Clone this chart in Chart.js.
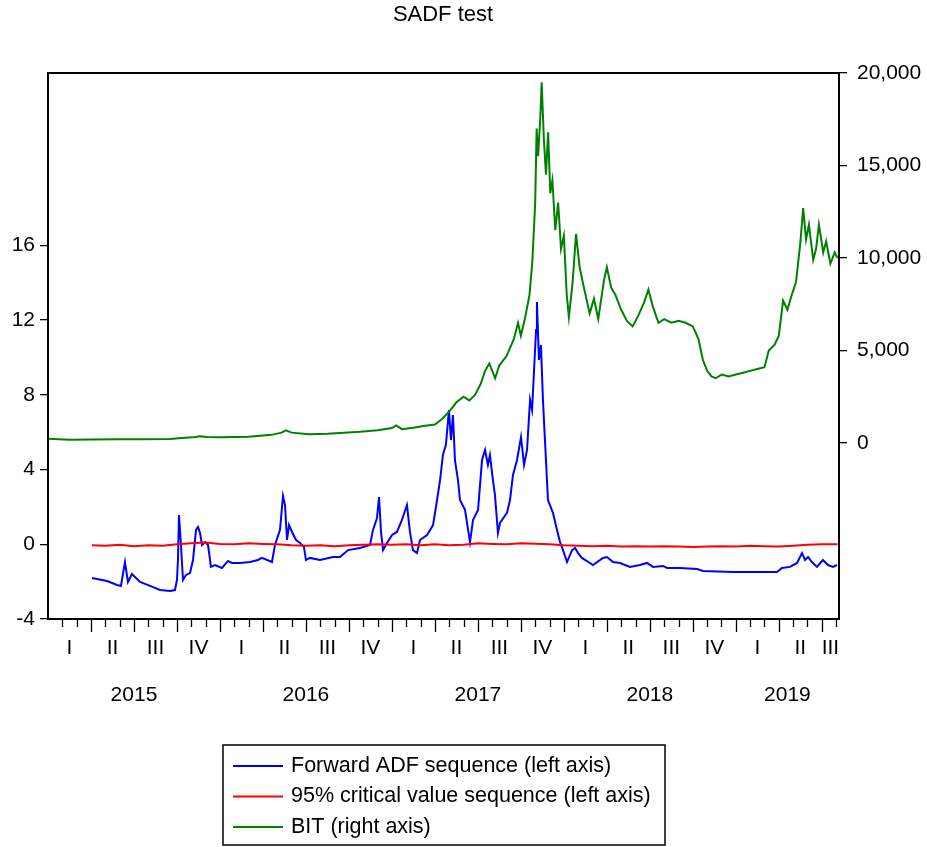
<!DOCTYPE html>
<html>
<head>
<meta charset="utf-8">
<title>SADF test</title>
<script src="https://cdn.jsdelivr.net/npm/chart.js@4.4.1/dist/chart.umd.min.js"></script>
<style>
  body { margin: 0; background: #fff; }
  #chart { display: block; }
</style>
</head>
<body>
<canvas id="chart" width="927" height="847"></canvas>
<script>
// x values are months since Jan 2015 (0 = 1 Jan 2015)
const quarterNames = ['I', 'II', 'III', 'IV'];
const yearLabels = ['2015', '2016', '2017', '2018', '2019'];
const leftTicks = [-4, 0, 4, 8, 12, 16];
const rightTicks = [0, 5000, 10000, 15000, 20000];

// Forward ADF sequence (left axis)
const adfSeq = [
  [3.07,-1.80],[4.12,-1.97],[4.82,-2.18],[5.09,-2.23],[5.37,-0.95],[5.58,-2.02],[5.86,-1.59],
  [6.42,-2.02],[7.12,-2.23],[7.82,-2.45],[8.51,-2.50],[8.86,-2.45],[9.00,-1.91],[9.07,-0.84],
  [9.14,1.57],[9.28,-0.04],[9.42,-1.91],[9.63,-1.64],[9.91,-1.54],[10.12,-0.84],[10.33,0.77],
  [10.47,0.93],[10.61,0.60],[10.75,-0.04],[10.96,0.12],[11.17,-0.04],[11.37,-1.21],[11.65,-1.11],
  [12.14,-1.27],[12.56,-0.89],[12.84,-1.00],[13.40,-1.00],[14.10,-0.95],[14.65,-0.84],[14.93,-0.73],
  [15.63,-0.95],[15.84,-0.04],[16.19,0.77],[16.40,2.59],[16.54,2.10],[16.68,0.23],[16.82,1.03],
  [17.03,0.66],[17.31,0.23],[17.59,0.07],[17.86,-0.14],[18.00,-0.84],[18.28,-0.73],[18.98,-0.84],
  [19.89,-0.68],[20.38,-0.68],[20.94,-0.31],[21.77,-0.20],[22.47,-0.04],[22.68,0.77],[22.96,1.41],
  [23.10,2.53],[23.24,0.66],[23.38,-0.31],[23.66,0.07],[24.01,0.50],[24.35,0.66],[24.70,1.30],
  [25.05,2.10],[25.26,0.66],[25.47,-0.31],[25.75,-0.47],[25.96,0.23],[26.45,0.50],[26.87,1.03],
  [27.15,2.37],[27.36,3.44],[27.56,4.78],[27.77,5.32],[27.98,7.19],[28.12,5.58],[28.26,6.92],
  [28.40,4.51],[28.61,3.44],[28.75,2.37],[29.10,1.84],[29.45,0.12],[29.66,1.30],[30.01,1.84],
  [30.29,4.51],[30.50,5.05],[30.70,4.25],[30.84,4.78],[31.05,3.44],[31.19,2.64],[31.40,0.60],
  [31.54,1.14],[32.03,1.68],[32.24,2.37],[32.45,3.71],[32.73,4.51],[33.01,5.74],[33.22,4.25],
  [33.43,5.05],[33.64,7.73],[33.78,7.19],[33.92,9.33],[34.06,11.47],[34.12,12.97],[34.26,9.87],
  [34.40,10.67],[34.54,7.73],[34.68,5.58],[34.82,3.44],[34.89,2.37],[35.24,1.68],[35.52,0.77],
  [35.73,0.12],[35.94,-0.31],[36.22,-0.95],[36.57,-0.31],[36.78,-0.20],[36.99,-0.47],[37.26,-0.73],
  [37.82,-1.00],[38.03,-1.11],[38.73,-0.73],[39.01,-0.68],[39.43,-0.95],[39.92,-1.00],[40.61,-1.21],
  [41.31,-1.11],[41.80,-1.00],[42.22,-1.21],[42.92,-1.16],[43.20,-1.27],[44.10,-1.27],[45.29,-1.32],
  [45.71,-1.43],[47.80,-1.48],[50.17,-1.48],[50.87,-1.48],[51.22,-1.27],[51.78,-1.21],[52.27,-1.00],
  [52.62,-0.47],[52.83,-0.84],[53.04,-0.68],[53.31,-0.95],[53.66,-1.21],[54.08,-0.84],[54.43,-1.11],
  [54.78,-1.21],[55.06,-1.11]
];

// 95% critical value sequence (left axis)
const critSeq = [
  [3.07,-0.05],[4,-0.08],[5,-0.03],[6,-0.10],[7,-0.05],[8,-0.08],[9,0.00],[10,0.05],[11,0.10],
  [12,0.02],[13,0.00],[14,0.05],[15,0.02],[16,0.00],[17,-0.05],[18,-0.08],[19,-0.05],[20,-0.10],
  [21,-0.05],[22,-0.02],[23,0.00],[24,-0.03],[25,0.00],[26,-0.05],[27,0.00],[28,-0.05],[29,-0.03],
  [30,0.05],[31,0.02],[32,0.00],[33,0.05],[34,0.03],[35,0.00],[36,-0.05],[37,-0.08],[38,-0.10],
  [39,-0.08],[40,-0.12],[41,-0.10],[42,-0.12],[43,-0.10],[44,-0.12],[45,-0.15],[46,-0.12],[47,-0.10],
  [48,-0.12],[49,-0.08],[50,-0.10],[51,-0.12],[52,-0.08],[53,-0.03],[54,0.00],[55.1,0.00]
];

// BIT (right axis)
const bitSeq = [
  [0,230],[1.5,180],[3,190],[5,200],[6.5,200],[8.5,220],[9.1,250],[10.3,330],[10.6,370],[11.1,320],
  [12.1,310],[14.0,340],[15.6,440],[16.3,560],[16.6,680],[17.0,560],[18.2,470],[19.5,500],[21.8,610],
  [23.0,690],[24.0,810],[24.3,950],[24.7,750],[25.5,830],[26.2,920],[27.0,1000],[27.5,1300],[28.0,1700],
  [28.5,2200],[29.0,2500],[29.4,2300],[29.8,2600],[30.2,3200],[30.5,3900],[30.8,4300],[31.2,3500],
  [31.5,4200],[32.0,4700],[32.5,5600],[32.8,6500],[33.0,5800],[33.3,6800],[33.6,8000],[33.8,9800],
  [34.0,13000],[34.1,17000],[34.2,15500],[34.35,17500],[34.45,19500],[34.6,16500],[34.75,14500],
  [34.9,16800],[35.05,13500],[35.2,14200],[35.4,11500],[35.6,13000],[35.8,10500],[36.0,11200],
  [36.2,8000],[36.35,6800],[36.6,8600],[36.85,11300],[37.1,9500],[37.4,8400],[37.8,7000],[38.1,7800],
  [38.4,6700],[38.8,8800],[39.0,9500],[39.3,8400],[39.6,8000],[40.0,7200],[40.4,6600],[40.8,6300],
  [41.2,6900],[41.6,7600],[41.9,8300],[42.2,7400],[42.6,6500],[43.0,6700],[43.5,6500],[44.0,6600],
  [44.5,6500],[45.0,6300],[45.4,5600],[45.7,4500],[46.0,3900],[46.3,3600],[46.6,3500],[47.0,3700],
  [47.5,3600],[48.0,3700],[48.5,3800],[49.0,3900],[49.5,4000],[50.0,4100],[50.3,5000],[50.7,5300],
  [51.0,5800],[51.3,7700],[51.6,7200],[51.9,8000],[52.2,8700],[52.5,10800],[52.7,12700],[52.9,11000],
  [53.1,11800],[53.4,9900],[53.6,10500],[53.8,11800],[54.1,10300],[54.3,10900],[54.6,9700],
  [54.9,10300],[55.1,10000]
];

const FONT = '"Liberation Sans", Arial, sans-serif';
const toPoints = (arr) => arr.map(([t, v]) => ({ x: t, y: v }));

// title, frame, month/quarter ticks and the boxed legend
const eviewsPlugin = {
  id: 'eviews',
  afterDraw(chart) {
    const { ctx, chartArea: a } = chart;
    const x = chart.scales.x;
    ctx.save();

    ctx.fillStyle = '#000';
    ctx.font = '22px ' + FONT;
    ctx.textAlign = 'center';
    ctx.textBaseline = 'middle';
    ctx.fillText('SADF test', 443, 15);

    ctx.strokeStyle = '#000';
    ctx.lineWidth = 2;
    ctx.strokeRect(a.left, a.top, a.right - a.left, a.bottom - a.top);

    ctx.lineWidth = 1.3;
    for (let m = 1; m <= Math.floor(x.max); m++) {
      const px = Math.round(x.getPixelForValue(m)) + 0.5;
      const len = m % 3 === 0 ? 13 : 8;
      ctx.beginPath();
      ctx.moveTo(px, a.bottom);
      ctx.lineTo(px, a.bottom + len);
      ctx.stroke();
    }

    ctx.font = '21px ' + FONT;
    for (let q = 0; q * 3 < x.max; q++) {
      const s = q * 3, e = Math.min(q * 3 + 3, x.max);
      ctx.fillText(quarterNames[q % 4], x.getPixelForValue((s + e) / 2), 648);
    }
    yearLabels.forEach((lab, i) => {
      const s = i * 12, e = Math.min(i * 12 + 12, x.max);
      ctx.fillText(lab, x.getPixelForValue((s + e) / 2), 695);
    });

    // legend
    ctx.lineWidth = 1.5;
    ctx.strokeRect(223, 745, 442, 100);
    ctx.font = '21.5px ' + FONT;
    ctx.textAlign = 'left';
    chart.data.datasets.forEach((ds, i) => {
      const y = 766 + i * 30.5;
      ctx.strokeStyle = ds.borderColor;
      ctx.lineWidth = 2;
      ctx.beginPath();
      ctx.moveTo(233, y);
      ctx.lineTo(283, y);
      ctx.stroke();
      ctx.fillStyle = '#000';
      ctx.fillText(ds.label, 291, y);
    });
    ctx.restore();
  }
};

new Chart(document.getElementById('chart'), {
  type: 'line',
  data: {
    datasets: [
      { label: 'Forward ADF sequence (left axis)', data: toPoints(adfSeq), borderColor: 'rgb(0,0,255)', yAxisID: 'y', order: 2 },
      { label: '95% critical value sequence (left axis)', data: toPoints(critSeq), borderColor: 'rgb(255,0,0)', yAxisID: 'y', order: 1 },
      { label: 'BIT (right axis)', data: toPoints(bitSeq), borderColor: 'rgb(0,128,0)', yAxisID: 'y2', order: 0 }
    ]
  },
  options: {
    responsive: false,
    animation: false,
    layout: { padding: { top: 73, bottom: 228, left: 0, right: 0 } },
    elements: {
      point: { radius: 0 },
      line: { borderWidth: 2, tension: 0 }
    },
    plugins: {
      legend: { display: false },
      title: { display: false },
      tooltip: { enabled: false }
    },
    scales: {
      x: { type: 'linear', min: 0, max: 55.2, display: false },
      y: {
        type: 'linear', position: 'left', min: -4, max: 25.23,
        afterBuildTicks: (s) => { s.ticks = leftTicks.map(v => ({ value: v })); },
        afterFit: (s) => { s.width = 48; },
        grid: { drawOnChartArea: false, drawTicks: true, tickLength: 8, color: '#000', lineWidth: 1.3 },
        border: { display: false },
        ticks: { color: '#000', padding: 5, font: { family: FONT, size: 21 } }
      },
      y2: {
        type: 'linear', position: 'right', min: -9514, max: 20000,
        afterBuildTicks: (s) => { s.ticks = rightTicks.map(v => ({ value: v })); },
        afterFit: (s) => { s.width = 88; },
        grid: { drawOnChartArea: false, drawTicks: true, tickLength: 8, color: '#000', lineWidth: 1.3 },
        border: { display: false },
        ticks: {
          color: '#000', padding: 10, font: { family: FONT, size: 21 },
          callback: (v) => v.toLocaleString('en-US')
        }
      }
    }
  },
  plugins: [eviewsPlugin]
});
</script>
</body>
</html>
